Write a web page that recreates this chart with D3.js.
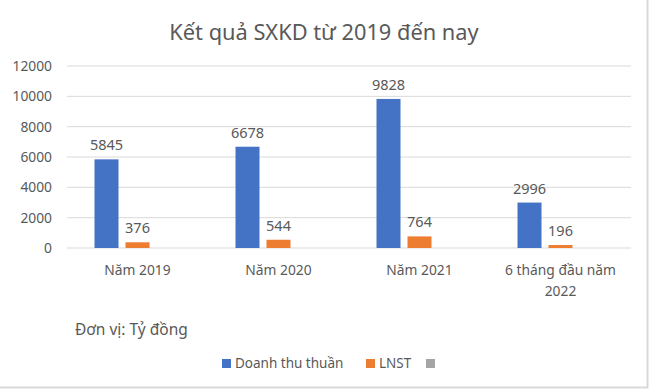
<!DOCTYPE html>
<html>
<head>
<meta charset="utf-8">
<script src="https://cdn.jsdelivr.net/npm/d3@7"></script>
<style>
  body { margin: 0; background: #fff; }
  text { font-family: 'Noto Sans', sans-serif; fill: #595959; }
</style>
</head>
<body>
<svg width="650" height="389"></svg>
<script>
const categories = ['Năm 2019', 'Năm 2020', 'Năm 2021', '6 tháng đầu năm 2022']
const seriesNames = ['Doanh thu thuần', 'LNST', '']
const doanhThu = [5845, 6678, 9828, 2996]
const lnst = [376, 544, 764, 196]
const yTicks = [0, 2000, 4000, 6000, 8000, 10000, 12000]
const colors = ['#4472C4', '#ED7D31', '#A5A5A5']

let svg = d3.select('svg')
let width = +svg.attr('width')
let height = +svg.attr('height')

// frame: only right and bottom edges show in the picture
svg.append('path')
    .attr('d', `M${width - 2.5},0V${height - 1.5}H0`)
    .attr('fill', 'none').attr('stroke', '#d9d9d9').attr('stroke-width', 2)

let plotLeft = 67, plotRight = 631, plotTop = 66, plotBottom = 248

let x = d3.scaleBand().domain(categories).range([plotLeft, plotRight])
let y = d3.scaleLinear().domain([0, 12000]).range([plotBottom, plotTop])

// title
svg.append('text')
    .attr('x', width / 2 - 1).attr('y', 40)
    .attr('text-anchor', 'middle')
    .attr('font-size', 21.8)
    .text('Kết quả SXKD từ 2019 đến nay')

// gridlines + y labels
let grid = svg.append('g')
grid.selectAll('line')
  .data(yTicks)
  .enter().append('line')
    .attr('x1', plotLeft).attr('x2', plotRight)
    .attr('y1', d => y(d)).attr('y2', d => y(d))
    .attr('stroke', '#d9d9d9').attr('stroke-width', 1)

grid.selectAll('text')
  .data(yTicks)
  .enter().append('text')
    .attr('x', 52).attr('y', d => y(d) + 5)
    .attr('text-anchor', 'end')
    .attr('font-size', 13.8)
    .text(d => d)

// bars
let barW = 24, gap = 7
let series = [doanhThu, lnst, categories.map(() => null)]
let groupW = barW * 3 + gap * 2

series.forEach((vals, si) => {
  let g = svg.append('g')
  let rows = categories.map((c, i) => ({ c: c, v: vals[i] })).filter(d => d.v != null)
  let bx = d => x(d.c) + x.bandwidth() / 2 - groupW / 2 + si * (barW + gap)
  g.selectAll('rect')
    .data(rows)
    .enter().append('rect')
      .attr('x', bx)
      .attr('y', d => y(d.v))
      .attr('width', barW)
      .attr('height', d => y(0) - y(d.v))
      .attr('fill', colors[si])
  g.selectAll('text')
    .data(rows)
    .enter().append('text')
      .attr('x', d => bx(d) + barW / 2)
      .attr('y', d => y(d.v) - 9)
      .attr('text-anchor', 'middle')
      .attr('font-size', 14.5)
      .attr('fill', '#404040')
      .text(d => d.v)
})

// x labels
let xl = svg.append('g')
categories.forEach(c => {
  let lines = c === '6 tháng đầu năm 2022' ? ['6 tháng đầu năm', '2022'] : [c]
  lines.forEach((ln, i) => {
    xl.append('text')
        .attr('x', x(c) + x.bandwidth() / 2)
        .attr('y', 275 + i * 21)
        .attr('text-anchor', 'middle')
        .attr('font-size', 13.8)
        .text(ln)
  })
})

// unit note
svg.append('text')
    .attr('x', 75).attr('y', 335)
    .attr('font-size', 15.5)
    .attr('fill', '#404040')
    .text('Đơn vị: Tỷ đồng')

// legend
let legendX = [222, 366, 426]
let legend = svg.append('g')
seriesNames.forEach((n, i) => {
  legend.append('rect')
      .attr('x', legendX[i]).attr('y', 359)
      .attr('width', 9).attr('height', 9)
      .attr('fill', colors[i])
  legend.append('text')
      .attr('x', legendX[i] + 13).attr('y', 368)
      .attr('font-size', 13.5)
      .text(n)
})
</script>
</body>
</html>
